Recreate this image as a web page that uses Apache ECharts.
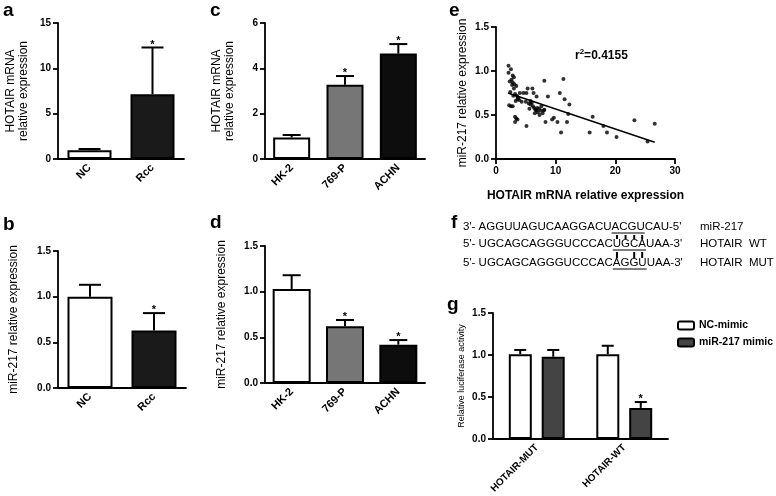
<!DOCTYPE html>
<html><head><meta charset="utf-8">
<script src="https://cdn.jsdelivr.net/npm/echarts@6/dist/echarts.min.js"></script>
<style>html,body{margin:0;padding:0;background:#fff}#c{width:776px;height:496px}</style>
</head><body><div id="c"></div><script>
const FONT = '"Liberation Sans", Arial, Helvetica, sans-serif';
const BLK = '#000';

// ---- data ----
const aCats = ['NC', 'Rcc'];
const aVals = [0.97, 7.15];
const aErr = [0.13, 5.15];
const aSig = [0, 1];

const bCats = ['NC', 'Rcc'];
const bVals = [1.0, 0.63];
const bErr = [0.13, 0.19];
const bSig = [0, 1];

const cCats = ['HK-2', '769-P', 'ACHN'];
const cVals = [0.95, 3.28, 4.65];
const cErr = [0.11, 0.38, 0.42];
const cSig = [0, 1, 1];

const dCats = ['HK-2', '769-P', 'ACHN'];
const dVals = [1.03, 0.62, 0.42];
const dErr = [0.15, 0.07, 0.05];
const dSig = [0, 1, 1];

const ePoints = [
  [2.1,1.06],[2.5,1.02],[2.1,0.98],[2.8,0.95],[3.0,0.93],[2.6,0.90],[2.8,0.87],[3.1,0.85],
  [2.7,0.84],[3.4,0.83],[3.0,0.80],[2.4,0.76],[3.2,0.74],[2.9,0.72],[3.5,0.72],[3.6,0.68],
  [3.9,0.67],[3.3,0.66],[2.2,0.61],[2.5,0.60],[2.8,0.60],[3.2,0.48],[3.4,0.46],[3.6,0.45],
  [3.2,0.42],[4.0,0.75],[4.6,0.75],[5.1,0.75],[5.3,0.80],[6.1,0.80],[6.3,0.75],[6.8,0.71],
  [5.0,0.65],[5.5,0.63],[5.8,0.62],[6.0,0.64],[6.2,0.60],[6.4,0.58],[6.6,0.56],[6.8,0.55],
  [7.0,0.53],[7.2,0.57],[7.5,0.55],[7.8,0.52],[6.5,0.52],[7.3,0.50],[8.0,0.55],[5.6,0.57],
  [5.8,0.66],[8.1,0.89],[11.3,0.91],[8.7,0.71],[10.7,0.75],[11.5,0.68],[12.3,0.62],[12.1,0.51],
  [16.2,0.48],[23.2,0.44],[26.6,0.40],[15.7,0.30],[18.6,0.30],[20.2,0.25],[25.4,0.20],[10.9,0.30],
  [8.3,0.42],[10.3,0.42],[11.9,0.42],[9.4,0.45],[9.7,0.47],[18.0,0.375],[5.1,0.375],[8.1,0.56],
  [3.7,0.70],[4.3,0.65],[2.3,0.88],[6.9,0.58],[7.6,0.60]
];
const eFit = [[2.0, 0.75], [26.6, 0.19]];
const eR2 = '0.4155';

const gCats = ['HOTAIR-MUT', 'HOTAIR-WT'];
const gNames = ['NC-mimic', 'miR-217 mimic'];
const gNC = [1.01, 1.01];
const gNCErr = [0.05, 0.10];
const gNCSig = [0, 0];
const gMimic = [0.98, 0.37];
const gMimicErr = [0.08, 0.07];
const gMimicSig = [0, 1];

const fRows = [
  {pre: "3'- AGGUUAGUCAAGGACU", hl: "ACGU", post: "CAU-5'", label: 'miR-217'},
  {pre: "5'- UGCAGCAGGGUCCCAC", hl: "UGCA", post: "UAA-3'", label: 'HOTAIR  WT'},
  {pre: "5'- UGCAGCAGGGUCCCAC", hl: "AGGU", post: "UAA-3'", label: 'HOTAIR  MUT'}
];
const fPairs12 = [0, 1, 2, 3];
const fPairs23 = [0, 2, 3];

// ---- styles ----
const twoColors = ['#ffffff', '#1a1a1a'];
const threeColors = ['#ffffff', '#767676', '#0d0d0d'];
const gColors = ['#ffffff', '#444444'];

function xCat(gi, cats, fs) {
  return {type: 'category', gridIndex: gi, data: cats,
    axisLine: {lineStyle: {color: BLK, width: 1.8}},
    axisTick: {alignWithLabel: true, length: 5, lineStyle: {color: BLK, width: 1.8}},
    axisLabel: {rotate: 45, color: BLK, fontWeight: 'bold', fontSize: fs || 11, fontFamily: FONT, margin: 7},
    splitLine: {show: false}};
}
function yVal(gi, max, step, dec, name, gap, fs) {
  return {type: 'value', gridIndex: gi, min: 0, max: max, interval: step,
    name: name, nameLocation: 'middle', nameGap: gap, nameRotate: 90,
    nameTextStyle: {color: BLK, fontSize: fs || 12, fontFamily: FONT, lineHeight: 13},
    axisLine: {show: true, lineStyle: {color: BLK, width: 1.8}},
    axisTick: {show: true, length: 5, lineStyle: {color: BLK, width: 1.8}},
    axisLabel: {color: BLK, fontWeight: 'bold', fontSize: 10, fontFamily: FONT, margin: 7,
      formatter: v => v.toFixed(dec)},
    splitLine: {show: false}};
}
function bars(gi, vals, colors, width) {
  return {type: 'bar', xAxisIndex: gi, yAxisIndex: gi, barWidth: width,
    data: vals.map((v, i) => ({value: v, itemStyle: {color: colors[i]}})),
    itemStyle: {borderColor: BLK, borderWidth: 2}, z: 2};
}
function errs(gi, vals, es, sig, offset, capW) {
  return {type: 'custom', xAxisIndex: gi, yAxisIndex: gi, z: 3, silent: true,
    data: vals.map((v, i) => [i, v, v + es[i], sig[i]]),
    encode: {x: 0, y: [1, 2]},
    renderItem: function (params, api) {
      const i = api.value(0);
      const p0 = api.coord([i, api.value(1)]);
      const p1 = api.coord([i, api.value(2)]);
      const x = p0[0] + offset;
      const ch = [
        {type: 'line', shape: {x1: x, y1: p0[1], x2: x, y2: p1[1]}, style: {stroke: BLK, lineWidth: 2}},
        {type: 'line', shape: {x1: x - capW / 2, y1: p1[1], x2: x + capW / 2, y2: p1[1]}, style: {stroke: BLK, lineWidth: 2}}
      ];
      if (api.value(3)) {
        ch.push({type: 'text', style: {text: '*', x: x, y: p1[1] - 3, align: 'center', verticalAlign: 'middle',
          font: 'bold 11px ' + FONT, fill: BLK}});
      }
      return {type: 'group', children: ch};
    }};
}

// ---- panel f graphics (text measured) ----
const fFontSize = 11.5;
const cv = document.createElement('canvas').getContext('2d');
cv.font = fFontSize + 'px ' + FONT;
const W = s => cv.measureText(s).width;
const fx = 463, fy = [227, 244, 263];
const fG = [];
fRows.forEach((r, k) => {
  fG.push({type: 'text', x: fx, y: fy[k], style: {text: r.pre + r.hl + r.post, font: fFontSize + 'px ' + FONT,
    fill: BLK, verticalAlign: 'middle'}});
  fG.push({type: 'text', x: 700, y: fy[k], style: {text: r.label, font: '11.5px ' + FONT, fill: BLK, verticalAlign: 'middle'}});
  const x1 = fx + W(r.pre), x2 = fx + W(r.pre + r.hl);
  fG.push({type: 'line', shape: {x1: x1, y1: fy[k] + 6, x2: x2, y2: fy[k] + 6}, style: {stroke: BLK, lineWidth: 1}});
});
function pairBars(rowIdx, idxs, yTop, yBot) {
  const r = fRows[rowIdx];
  idxs.forEach(j => {
    const xc = fx + W(r.pre + r.hl.slice(0, j)) + W(r.hl[j]) / 2;
    fG.push({type: 'line', shape: {x1: xc, y1: yTop, x2: xc, y2: yBot}, style: {stroke: BLK, lineWidth: 2}});
  });
}
pairBars(1, fPairs12, fy[0] + 8, fy[1] - 5);
pairBars(1, fPairs23, fy[1] + 8, fy[2] - 5);

const letters = [['a', 3, 11], ['b', 3, 225], ['c', 210, 11], ['d', 210, 223], ['e', 449, 11], ['f', 451, 223], ['g', 447, 305]];
letters.forEach(l => fG.push({type: 'text', x: l[1], y: l[2], style: {text: l[0], font: 'bold 19px ' + FONT, fill: BLK, verticalAlign: 'middle'}}));
fG.push({type: 'text', x: 575, y: 55, style: {
  text: '{b|r}{s|2}{b|=' + eR2 + '}',
  verticalAlign: 'middle',
  rich: {b: {font: 'bold 12px ' + FONT, fill: BLK, lineHeight: 14, verticalAlign: 'bottom'},
         s: {font: 'bold 8px ' + FONT, fill: BLK, verticalAlign: 'top', lineHeight: 14}}}});

const chart = echarts.init(document.getElementById('c'), null, {renderer: 'canvas'});
chart.setOption({
  animation: false,
  backgroundColor: '#fff',
  textStyle: {fontFamily: FONT},
  grid: [
    {left: 58, top: 23, width: 126, height: 136},
    {left: 58, top: 251, width: 128, height: 137},
    {left: 265, top: 23, width: 160, height: 136},
    {left: 265, top: 246, width: 160, height: 137},
    {left: 496, top: 27, width: 179, height: 132},
    {left: 493, top: 313, width: 175, height: 126}
  ],
  xAxis: [
    xCat(0, aCats), xCat(1, bCats), xCat(2, cCats), xCat(3, dCats),
    {type: 'value', gridIndex: 4, min: 0, max: 30, interval: 10,
      name: 'HOTAIR mRNA relative expression', nameLocation: 'middle', nameGap: 31,
      nameTextStyle: {color: BLK, fontSize: 12, fontWeight: 'bold', fontFamily: FONT},
      axisLine: {lineStyle: {color: BLK, width: 1.8}},
      axisTick: {length: 5, lineStyle: {color: BLK, width: 1.8}},
      axisLabel: {color: BLK, fontWeight: 'bold', fontSize: 10, fontFamily: FONT, margin: 7},
      splitLine: {show: false}},
    xCat(5, gCats, 10)
  ],
  yAxis: [
    yVal(0, 15, 5, 0, 'HOTAIR mRNA\nrelative expression', 28),
    yVal(1, 1.5, 0.5, 1, 'miR-217 relative expression', 38),
    yVal(2, 6, 2, 0, 'HOTAIR mRNA\nrelative expression', 29),
    yVal(3, 1.5, 0.5, 1, 'miR-217 relative expression', 37),
    yVal(4, 1.5, 0.5, 1, 'miR-217 relative expression', 27),
    yVal(5, 1.5, 0.5, 1, 'Relative luciferase activity', 20, 9)
  ],
  legend: {data: gNames, orient: 'vertical', left: 672, top: 315, itemWidth: 16, itemHeight: 8, itemGap: 6,
    textStyle: {fontWeight: 'bold', fontSize: 10.5, color: BLK, fontFamily: FONT}},
  graphic: fG,
  series: [
    bars(0, aVals, twoColors, 44), errs(0, aVals, aErr, aSig, 0, 22),
    bars(1, bVals, twoColors, 45), errs(1, bVals, bErr, bSig, 0, 22),
    bars(2, cVals, threeColors, 37), errs(2, cVals, cErr, cSig, 0, 18),
    bars(3, dVals, threeColors, 38), errs(3, dVals, dErr, dSig, 0, 18),
    {type: 'scatter', xAxisIndex: 4, yAxisIndex: 4, data: ePoints, symbolSize: 4,
      itemStyle: {color: BLK}, z: 3},
    {type: 'line', xAxisIndex: 4, yAxisIndex: 4, data: eFit, symbol: 'none',
      lineStyle: {color: BLK, width: 1.5}, z: 4},
    {type: 'bar', name: gNames[0], xAxisIndex: 5, yAxisIndex: 5, barWidth: 23, data: gNC,
      itemStyle: {color: gColors[0], borderColor: BLK, borderWidth: 2}},
    {type: 'bar', name: gNames[1], xAxisIndex: 5, yAxisIndex: 5, barWidth: 23, barGap: '43%', data: gMimic,
      itemStyle: {color: gColors[1], borderColor: BLK, borderWidth: 2}},
    errs(5, gNC, gNCErr, gNCSig, -16.5, 12),
    errs(5, gMimic, gMimicErr, gMimicSig, 16.5, 12)
  ]
});
</script></body></html>
